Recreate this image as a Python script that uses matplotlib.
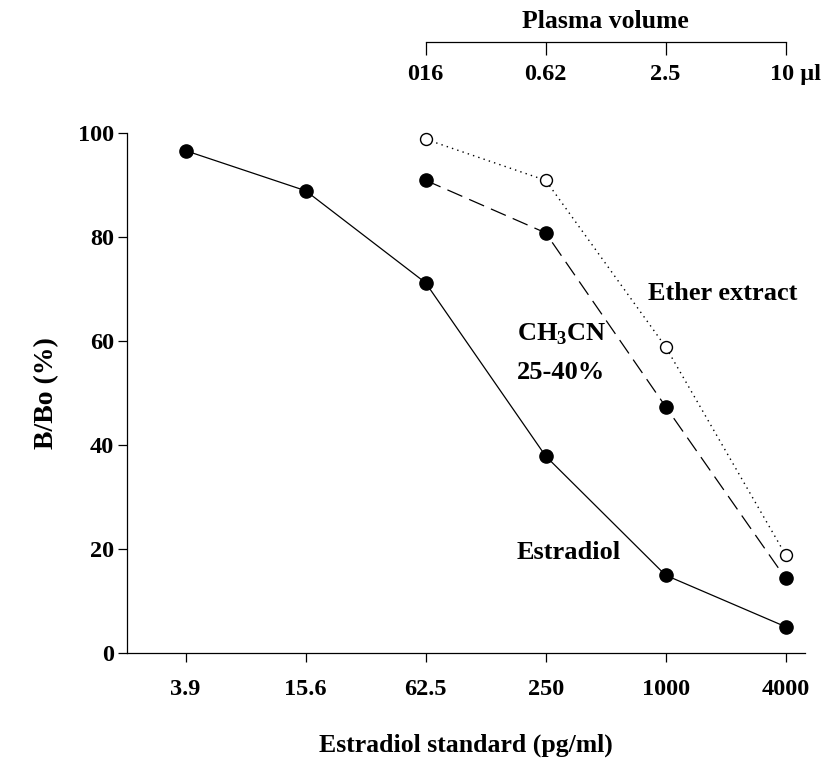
import numpy as np
import matplotlib
matplotlib.use("Agg")
import matplotlib.pyplot as plt
from matplotlib.transforms import ScaledTranslation


plt.rcParams["font.family"] = ["Liberation Serif", "DejaVu Serif"]
plt.rcParams["font.weight"] = "bold"
plt.rcParams["mathtext.fontset"] = "custom"
plt.rcParams["mathtext.rm"] = "Liberation Serif:bold"
plt.rcParams["mathtext.bf"] = "Liberation Serif:bold"


# -------------------------
# DATA
# -------------------------
doses = ["3.9", "15.6", "62.5", "250", "1000", "4000"]
estradiol = [96.6, 88.9, 71.2, 37.9, 15.0, 5.1]

# extracts start at the 62.5 pg/ml column
extract_doses = ["62.5", "250", "1000", "4000"]
ch3cn = [90.9, 80.8, 47.4, 14.4]
ether = [98.8, 90.9, 58.9, 18.9]

plasma_labels = ["016", "0.62", "2.5", "10 \u00b5l"]
y_ticks = [0, 20, 40, 60, 80, 100]


x_all = np.arange(len(doses))
x_ext = np.array([doses.index(d) for d in extract_doses])


# -------------------------
# FIGURE
# -------------------------
fig = plt.figure(figsize=(8.24, 7.63), dpi=100)
ax = fig.add_axes([0.1541, 0.1438, 0.8228, 0.6819])

lw = 0.9
ax.plot(x_all, estradiol, color="black", lw=lw, marker="o", ms=9.5,
        mfc="black", mec="black", clip_on=False, zorder=3)
ax.plot(x_ext, ch3cn, color="black", lw=lw, dashes=(13, 6), marker="o", ms=9.5,
        mfc="black", mec="black", clip_on=False, zorder=3)
ax.plot(x_ext, ether, color="black", lw=1.0, dashes=(1, 3.0), marker="o", ms=8.6,
        mfc="white", mec="black", mew=1.0, clip_on=False, zorder=4)

ax.set_xlim(-0.489, 5.161)
ax.set_ylim(0, 100)

ax.set_xticks(x_all)
ax.set_xticklabels(doses)
ax.set_yticks(y_ticks)

for s in ["top", "right"]:
    ax.spines[s].set_visible(False)
for s in ["left", "bottom"]:
    ax.spines[s].set_linewidth(0.9)

ax.tick_params(axis="x", direction="out", length=6.5, width=0.9, pad=12, labelsize=17.5)
ax.tick_params(axis="y", direction="out", length=6.5, width=0.9, pad=3, labelsize=17.5)

ax.set_xlabel("Estradiol standard (pg/ml)", fontsize=18.5, fontweight="bold", labelpad=24)
ax.set_ylabel("B/Bo (%)", fontsize=20, fontweight="bold", labelpad=13)


# -------------------------
# TOP AXIS (plasma volume)
# -------------------------
sec = ax.secondary_xaxis(1.1743)
sec.set_alignment("bottom")
sec.spines["bottom"].set_bounds(x_ext[0], x_ext[-1])
sec.spines["bottom"].set_linewidth(0.9)
sec.set_xticks(x_ext)
sec.set_xticklabels(plasma_labels)
sec.tick_params(axis="x", direction="out", length=9.4, width=0.9, pad=6, labelsize=17.5)
last = sec.get_xticklabels()[-1]
last.set_transform(last.get_transform() + ScaledTranslation(0.10, 0, fig.dpi_scale_trans))

ax.text((x_ext[0] + x_ext[-1]) / 2, 1.215, "Plasma volume", transform=ax.get_xaxis_transform(),
        ha="center", va="center", fontsize=18.5, fontweight="bold")


# -------------------------
# CURVE LABELS
# -------------------------
ax.text(3.853, 69.2, "Ether extract", ha="left", va="center", fontsize=19, fontweight="bold")
ax.text(2.76, 61.4, r"CH$_{\mathrm{3}}$CN", ha="left", va="center", fontsize=19, fontweight="bold")
ax.text(2.76, 53.9, "25-40%", ha="left", va="center", fontsize=19, fontweight="bold")
ax.text(2.76, 19.3, "Estradiol", ha="left", va="center", fontsize=19, fontweight="bold")


fig.savefig("out.png", dpi=100)
